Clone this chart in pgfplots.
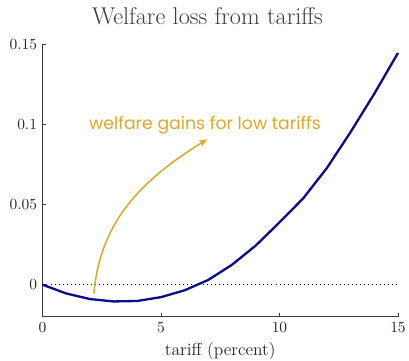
\documentclass[border=0pt]{standalone}
\usepackage{pgfplots}
\pgfplotsset{compat=1.18}
\usepackage{fontspec}
\newfontfamily\handfont{Poppins}
\usetikzlibrary{arrows.meta}
\definecolor{navy}{RGB}{12,12,140}
\definecolor{gold}{RGB}{222,168,42}
\definecolor{axgray}{RGB}{60,60,60}
\begin{document}
\begin{tikzpicture}
\useasboundingbox (-27.4bp,-28.6bp) rectangle (236.5bp,204.3bp);
\begin{axis}[
  at={(0,0)}, anchor=south west,
  scale only axis, width=229.4bp, height=175.3bp,
  xmin=0, xmax=15, ymin=-0.02, ymax=0.15,
  axis x line*=bottom, axis y line*=left,
  axis line style={axgray, line width=0.6bp},
  tick align=inside,
  major tick length=2.5bp,
  tick style={axgray, line width=0.6bp},
  xtick={0,5,10,15},
  ytick={0,0.05,0.1,0.15},
  yticklabels={0,0.05,0.1,0.15},
  ticklabel style={font=\fontsize{10}{12}\selectfont, text=black!85},
  title={Welfare loss from tariffs},
  title style={at={(axis description cs:0.464,1)}, anchor=base, yshift=7.2bp,
    font=\fontsize{15.7}{19}\selectfont, text=axgray},
  xlabel={tariff (percent)},
  xlabel style={at={(axis description cs:0.5,0)}, anchor=base, yshift=-25.4bp,
    font=\fontsize{11.3}{13}\selectfont, text=black!85},
  clip=false,
]
\addplot[black, dotted, line width=0.6bp] coordinates {(0,0) (15,0)};
\addplot[navy, line width=1.5bp] coordinates {
(0,0) (1,-0.0055) (2,-0.009) (3,-0.0105) (4,-0.0102) (5,-0.0078) (6,-0.0035)
(7,0.0030) (8,0.0125) (9,0.0245) (10,0.039) (11,0.054) (12,0.073)
(13,0.0955) (14,0.1195) (15,0.145)};
\node[text=gold, font=\handfont\fontsize{11.2}{13}\selectfont] at (axis cs:6.86,0.1) {welfare gains for low tariffs};
\draw[gold, line width=1bp, -{Stealth[length=5.5bp, width=4.5bp]}]
  (axis cs:2.17,-0.0056) to[out=85, in=212, looseness=1.0] (axis cs:6.95,0.091);
\end{axis}
\end{tikzpicture}
\end{document}
